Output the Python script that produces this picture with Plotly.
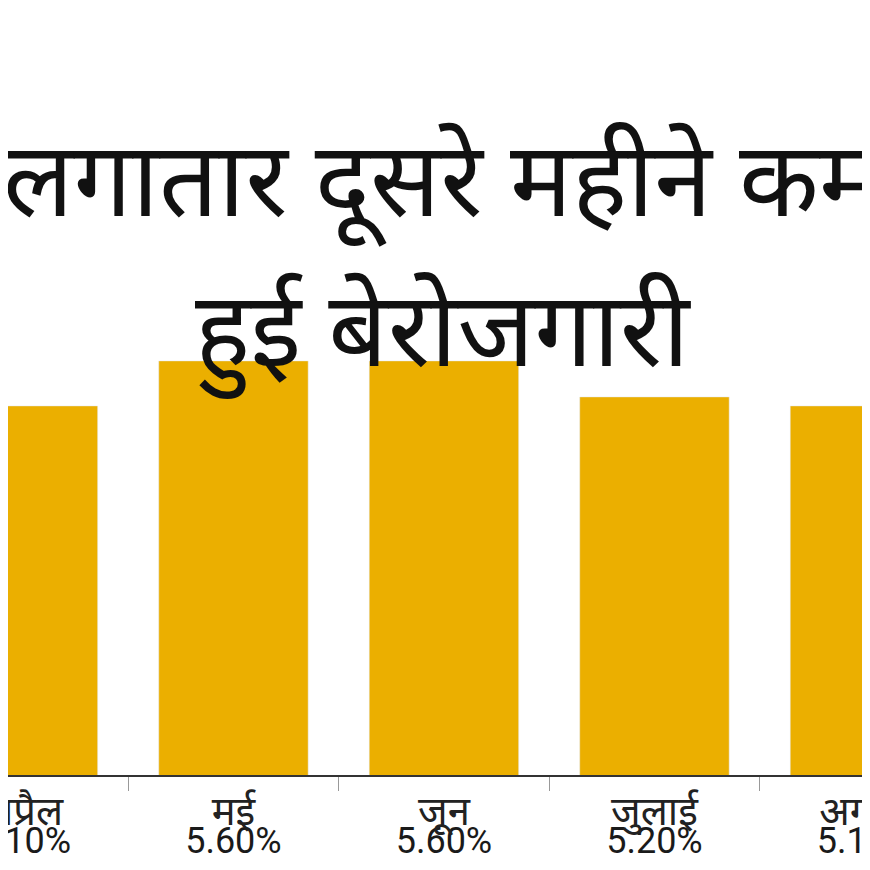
import plotly.graph_objects as go

months = ["अप्रैल", "मई", "जून", "जुलाई", "अगस्त"]
rate = [5.1, 5.6, 5.6, 5.2, 5.1]
labels = ["5.10%", "5.60%", "5.60%", "5.20%", "5.10%"]

fig = go.Figure(go.Bar(
    x=months, y=rate, text=labels,
    textposition="inside", insidetextanchor="start", textangle=0,
    textfont=dict(size=36, color="#1a1a1a", family="Roboto"),
    marker_color="#EBAF00", width=0.71, cliponaxis=False,
))

fig.add_annotation(text="लगातार दूसरे महीने कम", x=0.5, y=1 - 95 / 767, xref="paper", yref="paper",
                   showarrow=False, font=dict(size=104, color="#111", family="Noto Sans"))
fig.add_annotation(text="हुई बेरोजगारी", x=0.5, y=1 - 245 / 767, xref="paper", yref="paper",
                   showarrow=False, font=dict(size=104, color="#111", family="Noto Sans"))

fig.update_layout(
    width=870, height=870,
    margin=dict(l=0, r=0, t=0, b=103, autoexpand=False),
    plot_bgcolor="white", paper_bgcolor="white",
    showlegend=False,
    xaxis=dict(range=[-0.071, 4.062], automargin=False, showline=True, linecolor="#333", linewidth=1.5,
               ticks="outside", tickson="boundaries", ticklen=14, tickcolor="#999",
               tickfont=dict(size=40, color="#222", family="Noto Sans")),
    yaxis=dict(range=[1, 9.52], visible=False, automargin=False),
)

fig.write_html("out.html")
